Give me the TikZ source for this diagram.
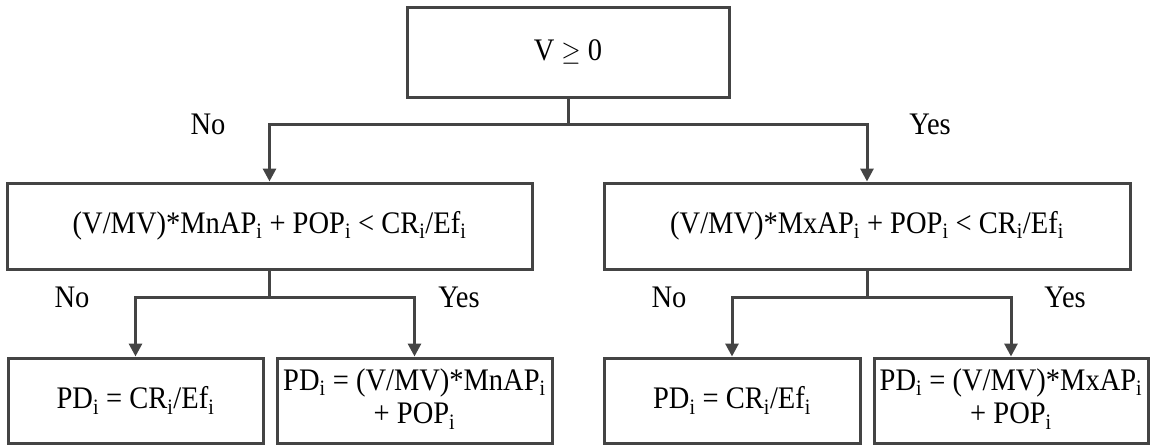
\documentclass[tikz,border=0pt]{standalone}
\usepackage{fontspec}
\usepackage{graphicx}
\setmainfont{Liberation Serif}
\usetikzlibrary{arrows.meta}
\newcommand{\sbi}{\textsubscript{i}}
% slightly taller lettering
\newcommand{\tall}[1]{\scalebox{1}[1.1]{#1}}
\newcommand{\twolines}[2]{\tall{\begin{tabular}{@{}c@{}}#1\\#2\end{tabular}}}
\definecolor{linegray}{HTML}{444444}
\begin{document}
\begin{tikzpicture}[x=1pt,y=-1pt,
  every node/.style={font=\fontsize{28.5}{30.5}\selectfont, text=black},
  box/.style={draw=linegray, line width=3pt, inner sep=0pt, align=center},
  conn/.style={draw=linegray, line width=3pt},
  arr/.style={conn, -{Triangle[width=13pt,length=13pt]}},
  lbl/.style={inner sep=0pt}]
  \useasboundingbox (0,0) rectangle (1152,445);

  % decision boxes
  \node[box, minimum width=322pt, minimum height=90pt] (top) at (568,52) {\tall{V $\geq$ 0}};
  \node[box, minimum width=525pt, minimum height=86pt] (midL) at (269.5,226)
    {\tall{(V/MV)*MnAP\sbi{} + POP\sbi{} < CR\sbi/Ef\sbi}};
  \node[box, minimum width=526pt, minimum height=86pt] (midR) at (867,226)
    {\tall{(V/MV)*MxAP\sbi{} + POP\sbi{} < CR\sbi/Ef\sbi}};

  % result boxes
  \node[box, minimum width=255pt, minimum height=85pt] (bl1) at (135.5,400.5)
    {\tall{PD\sbi{} = CR\sbi/Ef\sbi}};
  \node[box, minimum width=275pt, minimum height=85pt] (bl2) at (414.5,400.5)
    {\twolines{PD\sbi{} = (V/MV)*MnAP\sbi}{+ POP\sbi}};
  \node[box, minimum width=256pt, minimum height=85pt] (br1) at (732,400.5)
    {\tall{PD\sbi{} = CR\sbi/Ef\sbi}};
  \node[box, minimum width=274pt, minimum height=85pt] (br2) at (1011,400.5)
    {\twolines{PD\sbi{} = (V/MV)*MxAP\sbi}{+ POP\sbi}};

  % branch junctions
  \coordinate (j1) at (568,124);
  \coordinate (j2) at (269.5,297);
  \coordinate (j3) at (867,297);

  % connectors
  \draw[conn] (top.south) -- (j1);
  \draw[arr] (j1) -| (midL.north);
  \draw[arr] (j1) -| (midR.north);
  \draw[conn] (midL.south) -- (j2);
  \draw[arr] (j2) -| (bl1.north);
  \draw[arr] (j2) -| (bl2.north);
  \draw[conn] (midR.south) -- (j3);
  \draw[arr] (j3) -| (br1.north);
  \draw[arr] (j3) -| (br2.north);

  % branch labels
  \node[lbl] (n1) at (208,124) {\tall{No}};
  \node[lbl] (y1) at (930,124) {\tall{Yes}};
  \node[lbl] (n2) at (72,297) {\tall{No}};
  \node[lbl] (y2) at (459,297) {\tall{Yes}};
  \node[lbl] (n3) at (669,297) {\tall{No}};
  \node[lbl] (y3) at (1065,297) {\tall{Yes}};
\end{tikzpicture}
\end{document}
